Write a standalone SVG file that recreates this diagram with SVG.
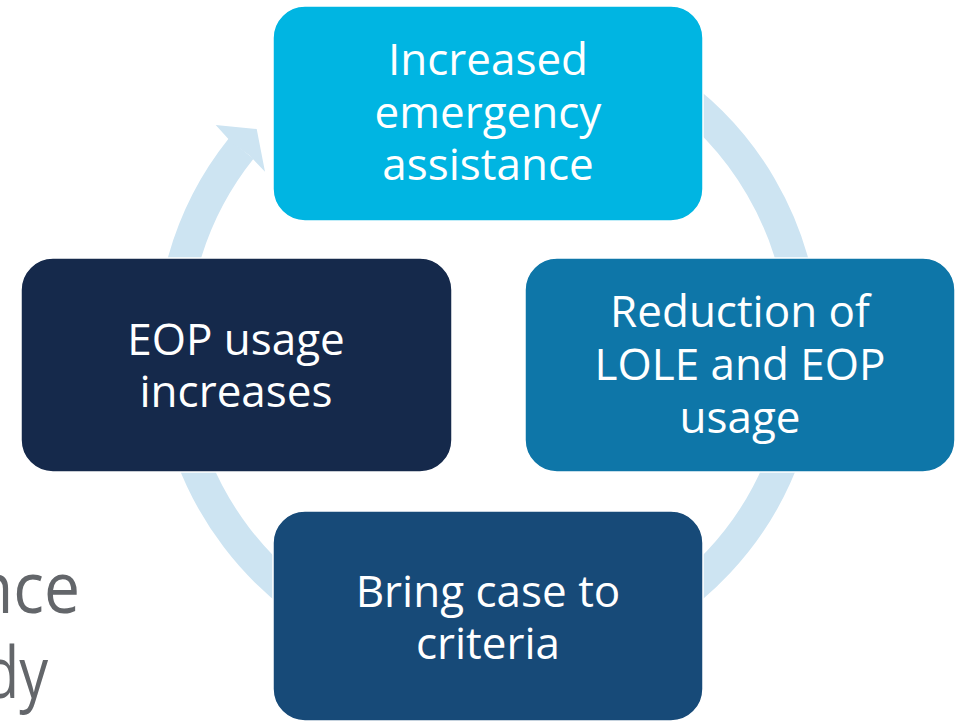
<svg xmlns="http://www.w3.org/2000/svg" width="966" height="722" viewBox="0 0 966 722">
<style>
.box{stroke:#ffffff;stroke-width:1.5}
.lbl{font-family:"Open Sans","Noto Sans","Liberation Sans",sans-serif;font-size:44px;fill:#ffffff;text-anchor:middle}
.bg{font-family:"Open Sans","Noto Sans","Liberation Sans",sans-serif;font-size:72px;fill:#63666A}
.ring{fill:none;stroke:#CDE4F2;stroke-width:32}
</style>
<rect width="966" height="722" fill="#ffffff"/>
<text class="bg" x="-26" y="613" textLength="106" lengthAdjust="spacingAndGlyphs">nce</text>
<text class="bg" x="-16" y="698" textLength="64" lengthAdjust="spacingAndGlyphs">dy</text>
<g id="connectors">
<path class="ring" d="M 542.9 34.8 A 316 316 0 1 1 241.0 148.8"/>
<polygon fill="#CDE4F2" points="232,143 215.7,125 256.7,129 265,171.7 249,155"/>
</g>
<g id="node-increased">
<rect class="box" x="273" y="6" width="430" height="215" rx="32" fill="#00B5E2"/>
<text class="lbl" x="488" y="75">Increased</text>
<text class="lbl" x="488" y="128">emergency</text>
<text class="lbl" x="488" y="180">assistance</text>
</g>
<g id="node-reduction">
<rect class="box" x="525" y="258" width="430" height="214" rx="32" fill="#0E76A8"/>
<text class="lbl" x="740" y="327">Reduction of</text>
<text class="lbl" x="740" y="380">LOLE and EOP</text>
<text class="lbl" x="740" y="433">usage</text>
</g>
<g id="node-bring">
<rect class="box" x="273" y="511" width="430" height="210" rx="32" fill="#174A78"/>
<text class="lbl" x="488" y="607">Bring case to</text>
<text class="lbl" x="488" y="659">criteria</text>
</g>
<g id="node-eop">
<rect class="box" x="21" y="258" width="431" height="214" rx="32" fill="#15294B"/>
<text class="lbl" x="236" y="355">EOP usage</text>
<text class="lbl" x="236" y="407">increases</text>
</g>
</svg>
